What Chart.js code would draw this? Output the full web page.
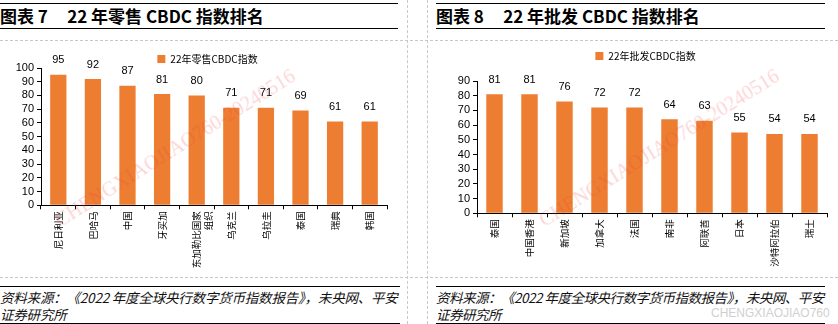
<!DOCTYPE html>
<html><head><meta charset="utf-8">
<script src="https://cdn.jsdelivr.net/npm/chart.js@4/dist/chart.umd.min.js"></script>
<style>
html,body{margin:0;padding:0;background:#fff;width:838px;height:324px;overflow:hidden;position:relative;font-family:"Noto Sans CJK SC","Liberation Sans",sans-serif;}
.abs{position:absolute;}
.title{font-weight:bold;font-size:17px;line-height:24px;color:#000;border-top:1.5px solid #000;border-bottom:1.5px solid #000;height:24px;white-space:pre;}
.src{font-style:italic;font-size:13.5px;line-height:17px;color:#111;border-top:1.5px solid #000;border-bottom:1.5px solid #000;padding-top:2px;height:34px;white-space:nowrap;letter-spacing:-0.2px;}
.hd{border-top:1px dashed #c8c8c8;height:0;}
.vd{border-left:1px dashed #c8c8c8;width:0;}
.wm{color:rgba(240,60,60,0.22);font-family:"Liberation Serif",serif;font-size:20px;transform-origin:left bottom;transform:rotate(-32deg);white-space:nowrap;line-height:20px;}
</style></head>
<body>
<div class="abs hd" style="left:0;top:40px;width:838px"></div>
<div class="abs hd" style="left:0;top:277px;width:838px"></div>
<div class="abs vd" style="left:407px;top:0;height:324px"></div>
<div class="abs vd" style="left:427px;top:0;height:324px"></div>
<div class="abs title" style="left:0;top:3px;width:398px">图表 7     22 年零售 CBDC 指数排名</div>
<div class="abs title" style="left:436px;top:3px;width:389px">图表 8     22 年批发 CBDC 指数排名</div>
<div class="abs" style="left:0;top:42px;width:405px;height:234px"><canvas id="c1" width="405" height="234"></canvas></div>
<div class="abs" style="left:436px;top:42px;width:402px;height:234px"><canvas id="c2" width="402" height="234"></canvas></div>
<div class="abs wm" style="left:62px;top:210px">CHENGXIAOJIAO760-20240516</div>
<div class="abs wm" style="left:546px;top:210px">CHENGXIAOJIAO760-20240516</div>
<div class="abs src" style="left:0;top:286px;width:400px">资料来源：《2022 年度全球央行数字货币指数报告》，未央网、平安<br>证券研究所</div>
<div class="abs src" style="left:436px;top:286px;width:389px;letter-spacing:-0.5px">资料来源：《2022 年度全球央行数字货币指数报告》，未央网、平安<br>证券研究所</div>
<div class="abs" style="left:711px;top:306px;font-size:12px;color:#d0d0d0;font-family:'Liberation Sans Narrow','Liberation Sans',sans-serif">CHENGXIAOJIAO760</div>
<script>
const retailCategories = ["尼日利亚","巴哈马","中国","牙买加",["东加勒比国家","组织"],"乌克兰","乌拉圭","泰国","瑞典","韩国"];
const retailValues = [95,92,87,81,80,71,71,69,61,61];
const retailTicks = [0,10,20,30,40,50,60,70,80,90,100];
const wholesaleCategories = ["泰国","中国香港","新加坡","加拿大","法国","南非","阿联酋","日本","沙特阿拉伯","瑞士"];
const wholesaleValues = [81,81,76,72,72,64,63,55,54,54];
const wholesaleTicks = [0,10,20,30,40,50,60,70,80,90];

const labelPlugin = {
  id:'vlabels',
  afterLayout(chart){
    const o = chart.options.legendShift || {dx:0, dy:0};
    const lg = chart.legend;
    if (lg){ lg.left += o.dx; lg.right += o.dx; lg.top += o.dy; lg.bottom += o.dy; }
  },
  afterDatasetsDraw(chart){
    const ctx = chart.ctx;
    const meta = chart.getDatasetMeta(0);
    ctx.save();
    ctx.font = '11px "Liberation Sans", Arial, sans-serif';
    ctx.fillStyle = '#000';
    ctx.textAlign = 'center';
    ctx.textBaseline = 'bottom';
    meta.data.forEach((bar,i)=>{
      ctx.fillText(String(chart.data.datasets[0].data[i]), bar.x, bar.y - 9);
    });
    ctx.restore();
  }
};

function makeChart(id, cats, vals, ticks, name, yMax, xH, padTop, padRight, shift){
  return new Chart(document.getElementById(id), {
    type:'bar',
    data:{labels:cats, datasets:[{label:name, data:vals, backgroundColor:'#ED7D31', borderWidth:0, categoryPercentage:1.0, barPercentage:0.47}]},
    options:{
      responsive:false, animation:false, devicePixelRatio:1,
      legendShift: shift,
      layout:{padding:{top:padTop,right:padRight,left:0,bottom:0}},
      plugins:{
        legend:{display:true, position:'top', labels:{boxWidth:8, boxHeight:8, padding:6, color:'#000', font:{size:10, family:'"Noto Sans CJK SC", sans-serif'}}},
        tooltip:{enabled:false}
      },
      scales:{
        x:{
          afterFit(s){ s.height = xH; },
          border:{color:'#000', width:1},
          grid:{display:true, offset:true, drawOnChartArea:false, drawTicks:true, tickLength:4, color:'#000'},
          ticks:{autoSkip:false, maxRotation:90, minRotation:90, padding:2, color:'#000', font:{size:9.5, family:'"Noto Sans CJK SC", sans-serif'}}
        },
        y:{
          min:0, max:yMax,
          afterFit(s){ s.width = 41; },
          afterBuildTicks(s){ s.ticks = ticks.map(v=>({value:v})); },
          border:{color:'#000', width:1},
          grid:{display:true, drawOnChartArea:false, drawTicks:true, tickLength:4, color:'#000'},
          ticks:{autoSkip:false, padding:3, color:'#000', font:{size:11, family:'"Liberation Sans", Arial, sans-serif'}}
        }
      }
    },
    plugins:[labelPlugin]
  });
}
makeChart('c1', retailCategories, retailValues, retailTicks, '22年零售CBDC指数', 100, 70.7, 0, 18, {dx:14, dy:6});
makeChart('c2', wholesaleCategories, wholesaleValues, wholesaleTicks, '22年批发CBDC指数', 90, 62.7, 13, 11, {dx:14, dy:-10});
</script>
</body></html>
